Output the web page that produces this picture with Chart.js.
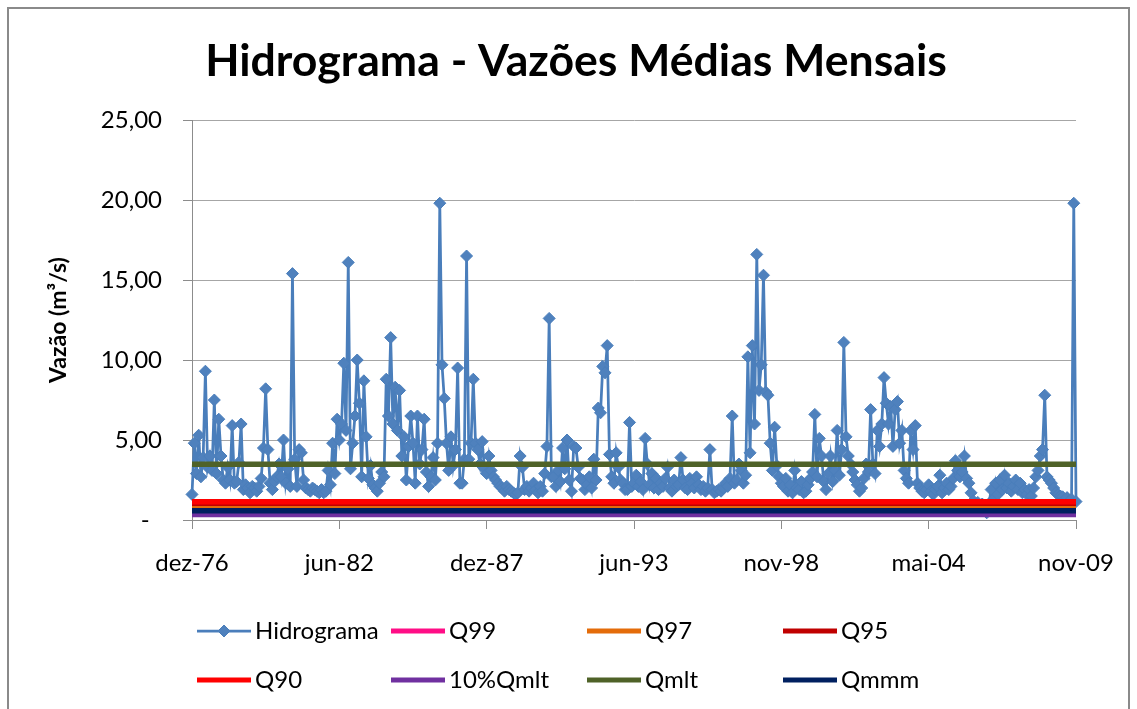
<!DOCTYPE html>
<html>
<head>
<meta charset="utf-8">
<script src="https://cdn.jsdelivr.net/npm/chart.js@4.4.1/dist/chart.umd.min.js"></script>
<style>
html,body{margin:0;padding:0;background:#fff;overflow:hidden;}
#frame{position:absolute;left:7px;top:7px;width:1119px;height:730px;border:2px solid #8a8a8a;}
#wrap{position:absolute;left:0;top:0;width:1137px;height:709px;}
</style>
</head>
<body>
<div id="frame"></div>
<div id="wrap"><canvas id="c" width="1137" height="709"></canvas></div>
<script>
// ---- data (monthly mean discharge, m³/s), dez-76 .. nov-09 ----
const hidrograma = [
  1.6, 4.8, 2.9, 5.3, 2.7, 3.9, 9.3, 3.3, 4.0, 3.1,
  7.5, 2.9, 6.3, 4.0, 2.5, 2.3, 3.3, 2.5, 5.9, 2.3,
  2.4, 3.6, 6.0, 1.9, 2.2, 2.0, 1.7, 2.1, 2.0, 1.8,
  2.1, 2.6, 4.5, 8.2, 4.4, 2.3, 1.9, 2.4, 2.7, 3.5,
  2.7, 5.0, 2.3, 3.2, 2.1, 15.4, 3.8, 2.1, 4.4, 4.2,
  2.5, 2.0, 1.9, 1.8, 2.0, 1.9, 1.8, 1.7, 1.9, 1.7,
  1.8, 3.1, 2.2, 4.8, 2.9, 6.3, 5.0, 6.0, 9.8, 5.6,
  16.1, 3.2, 4.8, 6.5, 10.0, 7.3, 2.7, 8.7, 5.2, 2.6,
  3.4, 2.2, 2.0, 1.8, 2.3, 3.0, 2.7, 8.8, 6.5, 11.4,
  6.0, 8.3, 5.6, 8.1, 4.0, 5.2, 2.5, 4.6, 6.5, 4.8,
  2.3, 6.5, 3.5, 4.4, 6.3, 3.0, 2.1, 2.7, 3.9, 2.5,
  4.8, 19.8, 9.7, 7.6, 4.8, 3.1, 5.2, 3.4, 4.4, 9.5,
  2.3, 2.3, 3.8, 16.5, 3.8, 4.8, 8.8, 4.8, 4.4, 3.5,
  4.9, 3.2, 2.9, 4.0, 3.1, 2.7, 2.5, 2.3, 2.1, 2.0,
  1.8, 2.1, 1.9, 1.8, 1.7, 1.6, 1.7, 4.0, 3.3, 1.9,
  2.1, 1.8, 2.0, 2.3, 1.9, 1.7, 2.1, 1.8, 2.9, 4.6,
  12.6, 2.7, 2.7, 2.1, 3.1, 2.4, 4.5, 3.2, 5.0, 2.5,
  1.8, 4.6, 4.5, 3.3, 2.6, 2.5, 1.9, 2.2, 2.7, 2.0,
  3.8, 2.5, 7.0, 6.7, 9.6, 9.2, 10.9, 4.1, 2.7, 2.3,
  4.2, 3.3, 2.5, 2.3, 1.9, 1.9, 6.1, 2.1, 2.3, 2.8,
  2.1, 2.4, 1.9, 5.1, 3.5, 2.2, 2.9, 2.0, 2.6, 1.9,
  2.3, 2.1, 2.6, 3.3, 2.0, 1.8, 2.5, 2.1, 2.2, 3.9,
  2.5, 2.0, 1.9, 2.6, 2.3, 2.0, 2.7, 2.2, 1.9, 2.1,
  1.8, 2.0, 4.4, 1.9, 1.7, 1.8, 1.9, 1.8, 2.0, 2.3,
  2.1, 2.6, 6.5, 2.3, 2.5, 3.5, 3.1, 2.3, 2.8, 10.2,
  4.2, 10.9, 6.0, 16.6, 8.1, 9.7, 15.3, 8.0, 7.8, 4.8,
  3.1, 5.8, 3.4, 2.7, 2.3, 2.1, 2.6, 1.8, 2.2, 1.7,
  3.1, 2.0, 1.9, 2.4, 1.7, 1.8, 2.2, 2.6, 3.0, 6.6,
  2.7, 5.1, 4.0, 2.4, 1.9, 2.9, 4.0, 2.4, 3.1, 5.6,
  2.8, 4.4, 11.1, 5.2, 4.0, 3.5, 3.0, 2.5, 2.2, 1.8,
  2.0, 2.6, 3.5, 3.0, 6.9, 3.5, 2.9, 5.6, 4.6, 6.0,
  8.9, 7.3, 6.0, 7.1, 4.6, 6.9, 7.4, 4.8, 5.6, 3.1,
  2.6, 2.3, 5.6, 4.4, 5.9, 2.3, 2.0, 1.8, 1.7, 1.9,
  2.2, 1.8, 1.6, 1.9, 2.1, 2.8, 1.7, 2.0, 2.3, 1.9,
  2.1, 2.6, 3.7, 3.1, 2.7, 3.0, 4.0, 2.6, 2.3, 1.7,
  1.2, 0.9, 1.1, 0.8, 1.0, 0.7, 0.45, 1.0, 1.9, 1.3,
  2.3, 1.6, 2.5, 1.9, 2.8, 2.0, 2.3, 1.8, 2.1, 2.5,
  1.9, 2.3, 1.7, 1.9, 1.6, 1.9, 1.5, 2.0, 2.7, 3.1,
  4.0, 4.4, 7.8, 2.7, 2.5, 2.3, 2.0, 1.7, 1.6, 1.5,
  1.45, 1.3, 1.4, 1.2, 1.3, 19.8, 1.15
];

// reference discharges (m³/s)
const Q99 = 0.70;
const Q97 = 0.81;
const Q95 = 1.05;
const Q90 = 1.14;
const Q10pctQmlt = 0.349;
const Qmlt = 3.49;
const Qmmm = 0.575;

// month categories
const monthNames = ['jan','fev','mar','abr','mai','jun','jul','ago','set','out','nov','dez'];
const categories = [];
for (let k = 0; k < hidrograma.length; k++) {
  const m = (11 + k) % 12;
  const yy = (76 + Math.floor((11 + k) / 12)) % 100;
  categories.push(monthNames[m] + '-' + String(yy).padStart(2, '0'));
}

// axis labels as shown
const tickLabels = ['dez-76', 'jun-82', 'dez-87', 'jun-93', 'nov-98', 'mai-04', 'nov-09'];
const tickEvery = 66;
const yTicks = [0, 5, 10, 15, 20, 25];

const seriesNames = ['Hidrograma', 'Q99', 'Q97', 'Q95', 'Q90', '10%Qmlt', 'Qmlt', 'Qmmm'];
const seriesColors = ['#4a7ebb', '#ff0d86', '#e46c0a', '#c00000', '#ff0000', '#7030a0', '#4f6228', '#002060'];
const refValues = [Q99, Q97, Q95, Q90, Q10pctQmlt, Qmlt, Qmmm];

const last = categories.length - 1;
function refLine(v) {
  return [{x: categories[0], y: v}, {x: categories[last], y: v}];
}

const datasets = [{
  label: seriesNames[0],
  data: hidrograma,
  borderColor: seriesColors[0],
  backgroundColor: '#4f81bd',
  borderWidth: 2.75,
  pointStyle: 'rectRot',
  pointRadius: 6,
  pointHoverRadius: 6,
  pointBorderWidth: 1,
  pointBackgroundColor: '#4f81bd',
  pointBorderColor: '#4a7ebb',
  tension: 0,
  order: 7,
  clip: false
}];
refValues.forEach((v, k) => {
  datasets.push({
    label: seriesNames[k + 1],
    data: refLine(v),
    borderColor: seriesColors[k + 1],
    backgroundColor: seriesColors[k + 1],
    borderWidth: 5.5,
    pointRadius: 0,
    pointHoverRadius: 0,
    tension: 0,
    order: 6 - k
  });
});

// legend laid out in Excel-like grid (2 rows x 4 columns)
const gridLegend = {
  id: 'gridLegend',
  afterDraw(chart) {
    const ctx = chart.ctx;
    const cols = [197, 391, 587, 783];
    const rows = [631, 680];
    chart.data.datasets.forEach((ds, k) => {
      const x = cols[k % 4];
      const y = rows[Math.floor(k / 4)];
      ctx.save();
      ctx.strokeStyle = ds.borderColor;
      ctx.lineWidth = k === 0 ? 2.75 : 5;
      ctx.beginPath();
      ctx.moveTo(x, y);
      ctx.lineTo(x + 54, y);
      ctx.stroke();
      if (k === 0) {
        const cx = x + 27, r = 6;
        ctx.fillStyle = '#4f81bd';
        ctx.lineWidth = 1;
        ctx.beginPath();
        ctx.moveTo(cx - r, y); ctx.lineTo(cx, y - r); ctx.lineTo(cx + r, y); ctx.lineTo(cx, y + r);
        ctx.closePath();
        ctx.fill(); ctx.stroke();
      }
      ctx.fillStyle = '#000';
      ctx.font = '24px Lato';
      ctx.textAlign = 'left';
      ctx.textBaseline = 'middle';
      ctx.fillText(ds.label, x + 58, y);
      ctx.restore();
    });
  }
};

Chart.defaults.font.family = 'Lato';
Chart.defaults.color = '#000';

new Chart(document.getElementById('c'), {
  type: 'line',
  data: { labels: categories, datasets: datasets },
  options: {
    responsive: false,
    animation: false,
    devicePixelRatio: 1,
    layout: { padding: { left: 15, right: 0, top: 0, bottom: 0 } },
    plugins: {
      legend: { display: false },
      tooltip: { enabled: false },
      title: {
        display: true,
        text: 'Hidrograma - Vazões Médias Mensais',
        color: '#000',
        font: { family: 'Lato', size: 44.6, weight: 'bold', lineHeight: 1.2 },
        padding: { top: 35.2, bottom: 31.3 }
      }
    },
    scales: {
      x: {
        type: 'category',
        offset: false,
        ticks: {
          autoSkip: false, maxRotation: 0, minRotation: 0, padding: 20,
          color: '#000', font: { size: 24 },
          callback: (v, i) => (i % tickEvery === 0 ? tickLabels[i / tickEvery] : '')
        },
        grid: {
          drawOnChartArea: false, drawTicks: true, tickLength: 9, lineWidth: 1,
          color: c => (c.index % tickEvery === 0 ? '#8c8c8c' : 'rgba(0,0,0,0)')
        },
        border: { display: true, color: '#8c8c8c', width: 1 },
        afterFit: s => { s.height = 189; }
      },
      y: {
        min: 0, max: 25,
        afterBuildTicks: s => { s.ticks = yTicks.map(v => ({ value: v })); },
        ticks: {
          padding: 21, color: '#000', font: { size: 24 },
          callback: v => (v === 0 ? '-\u00a0\u00a0' : v.toFixed(2).replace('.', ','))
        },
        grid: { color: '#a6a6a6', tickColor: '#8c8c8c', tickLength: 9, drawTicks: true, lineWidth: 1 },
        border: { display: true, color: '#8c8c8c', width: 1 },
        title: {
          display: true, text: 'Vazão (m³/s)', color: '#000',
          font: { size: 23, weight: 'bold', lineHeight: 1.2 },
          padding: { top: 30, bottom: 0 }
        },
        afterFit: s => { s.width = 177; }
      },
      yR: {
        position: 'right', display: true, min: 0, max: 1,
        grid: { display: false, drawTicks: false },
        ticks: { display: false },
        border: { display: false },
        afterFit: s => { s.width = 61; }
      }
    }
  },
  plugins: [gridLegend]
});
</script>
</body>
</html>
